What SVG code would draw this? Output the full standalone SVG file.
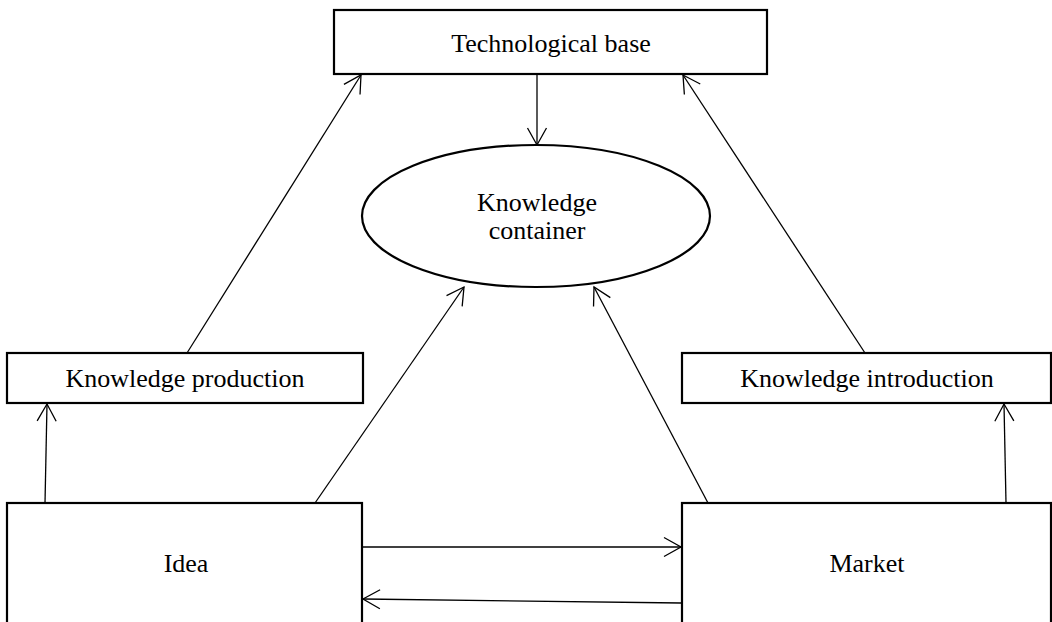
<svg xmlns="http://www.w3.org/2000/svg" width="1052" height="622" viewBox="0 0 1052 622">
<style>
.box{fill:#fff;stroke:#000;stroke-width:2.2}
.lbl{font-family:"Liberation Serif","Times New Roman",serif;font-size:26px;fill:#000;text-anchor:middle}
.con{stroke:#000;stroke-width:1.3;fill:none;marker-end:url(#ah)}
</style>
<defs>
<marker id="ah" markerUnits="userSpaceOnUse" markerWidth="22" markerHeight="24" refX="19" refY="12" orient="auto" overflow="visible">
<path d="M2,2.5 L19,12 L2,21.5" fill="none" stroke="#000" stroke-width="1.3"/>
</marker>
</defs>
<rect width="1052" height="622" fill="#fff"/>
<g id="connectors">
<line class="con" x1="537" y1="75" x2="537" y2="145"/>
<line class="con" x1="187" y1="353" x2="361" y2="75"/>
<line class="con" x1="865" y1="353" x2="683" y2="75"/>
<line class="con" x1="45" y1="503" x2="47" y2="404"/>
<line class="con" x1="315" y1="503" x2="464" y2="287"/>
<line class="con" x1="708" y1="503" x2="594" y2="287"/>
<line class="con" x1="1006" y1="503" x2="1004" y2="404"/>
<line class="con" x1="363" y1="547" x2="681" y2="547"/>
<line class="con" x1="681" y1="603" x2="363" y2="599"/>
</g>
<g id="technological-base">
<rect class="box" x="334" y="10" width="433" height="64"/>
<text class="lbl" x="551" y="52">Technological base</text>
</g>
<g id="knowledge-container">
<ellipse class="box" cx="536" cy="216" rx="174" ry="71"/>
<text class="lbl" x="537" y="211">Knowledge</text>
<text class="lbl" x="537" y="239">container</text>
</g>
<g id="knowledge-production">
<rect class="box" x="7" y="353" width="356" height="50"/>
<text class="lbl" x="185" y="387">Knowledge production</text>
</g>
<g id="knowledge-introduction">
<rect class="box" x="682" y="353" width="369" height="50"/>
<text class="lbl" x="867" y="387">Knowledge introduction</text>
</g>
<g id="idea">
<rect class="box" x="7" y="503" width="355" height="125"/>
<text class="lbl" x="186" y="572">Idea</text>
</g>
<g id="market">
<rect class="box" x="682" y="503" width="369" height="125"/>
<text class="lbl" x="867" y="572">Market</text>
</g>
</svg>
